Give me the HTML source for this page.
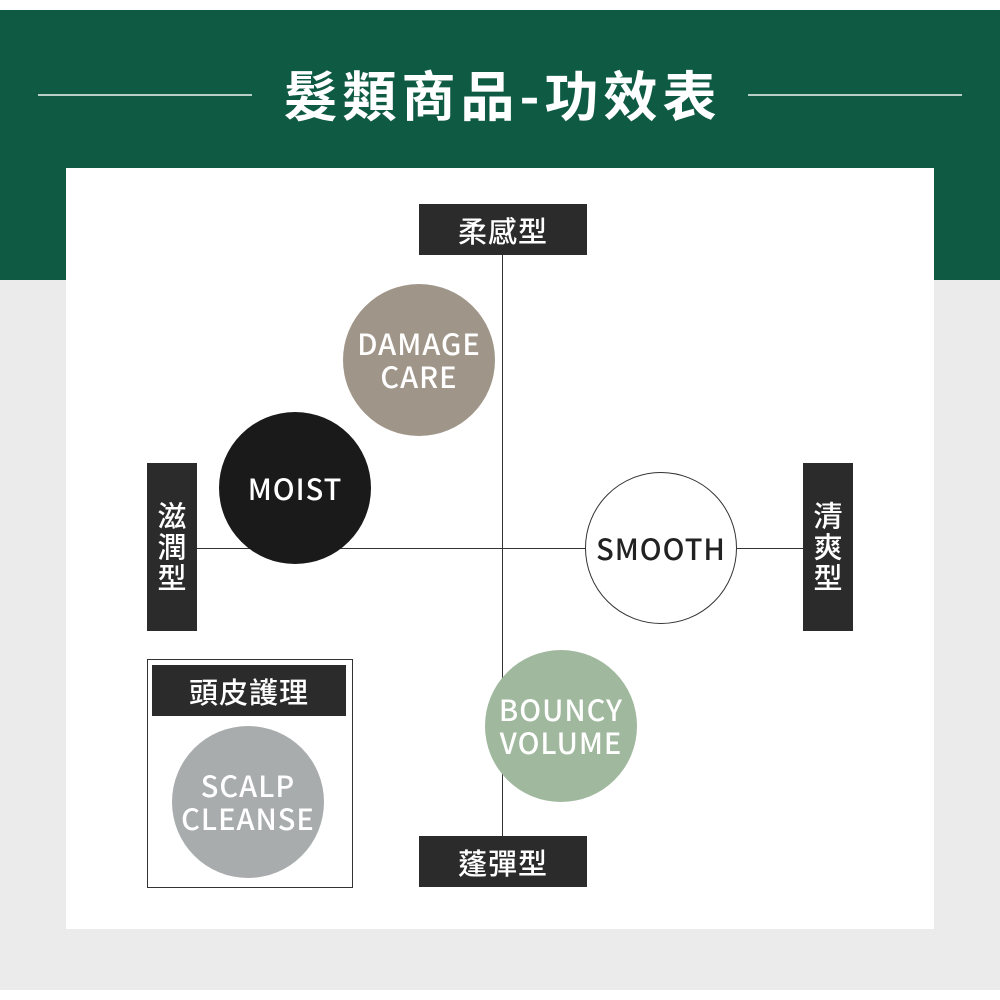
<!DOCTYPE html>
<html><head><meta charset="utf-8"><style>
body{margin:0;width:1000px;height:1000px;background:#fff;position:relative;overflow:hidden;font-family:"Liberation Sans","Noto Sans CJK TC",sans-serif}
div{position:absolute;box-sizing:border-box}
.lbl{background:#2b2b2b;color:#fff;font-size:29px;font-weight:500;display:flex;align-items:center;justify-content:center;font-family:"Noto Sans CJK TC",sans-serif;letter-spacing:1px}
.c{width:152px;height:152px;border-radius:50%;display:flex;align-items:center;justify-content:center;text-align:center;color:#fff;font-size:29px;font-weight:500;line-height:33px;letter-spacing:1px;font-family:"Noto Sans CJK TC","Liberation Sans",sans-serif}
</style></head><body>
<div style="left:0;top:10px;width:1000px;height:980px;background:#ebebeb"></div>
<div style="left:0;top:10px;width:1000px;height:270px;background:#0f5a43"></div>
<div style="left:38px;top:94px;width:214px;height:2px;background:#b8cfc5"></div>
<div style="left:748px;top:94px;width:214px;height:2px;background:#b8cfc5"></div>
<div style="left:252px;top:60px;width:496px;height:70px;color:#fff;font-size:54px;font-weight:bold;text-align:center;line-height:66px;letter-spacing:5px;padding-left:5px;font-family:'Noto Sans CJK TC',sans-serif">髮類商品-功效表</div>
<div style="left:66px;top:168px;width:868px;height:761px;background:#fff"></div>
<div style="left:502px;top:255px;width:1px;height:581px;background:#333"></div>
<div style="left:197px;top:548px;width:606px;height:1px;background:#333"></div>
<div class="lbl" style="left:419px;top:204px;width:168px;height:51px">柔感型</div>
<div class="lbl" style="left:419px;top:836px;width:168px;height:51px">蓬彈型</div>
<div class="lbl" style="left:147px;top:463px;width:50px;height:168px;writing-mode:vertical-rl;letter-spacing:2px">滋潤型</div>
<div class="lbl" style="left:803px;top:463px;width:50px;height:168px;writing-mode:vertical-rl;letter-spacing:2px">清爽型</div>
<div class="c" style="left:343px;top:284px;background:#a09589">DAMAGE<br>CARE</div>
<div class="c" style="left:219px;top:412px;background:#1a1a1a">MOIST</div>
<div class="c" style="left:585px;top:472px;background:#fff;border:1px solid #333;color:#222">SMOOTH</div>
<div class="c" style="left:485px;top:650px;background:#a0b89d">BOUNCY<br>VOLUME</div>
<div style="left:147px;top:659px;width:206px;height:229px;border:1.5px solid #333;background:#fff"></div>
<div class="lbl" style="left:152px;top:665px;width:194px;height:51px">頭皮護理</div>
<div class="c" style="left:172px;top:726px;background:#a9acad">SCALP<br>CLEANSE</div>
</body></html>
